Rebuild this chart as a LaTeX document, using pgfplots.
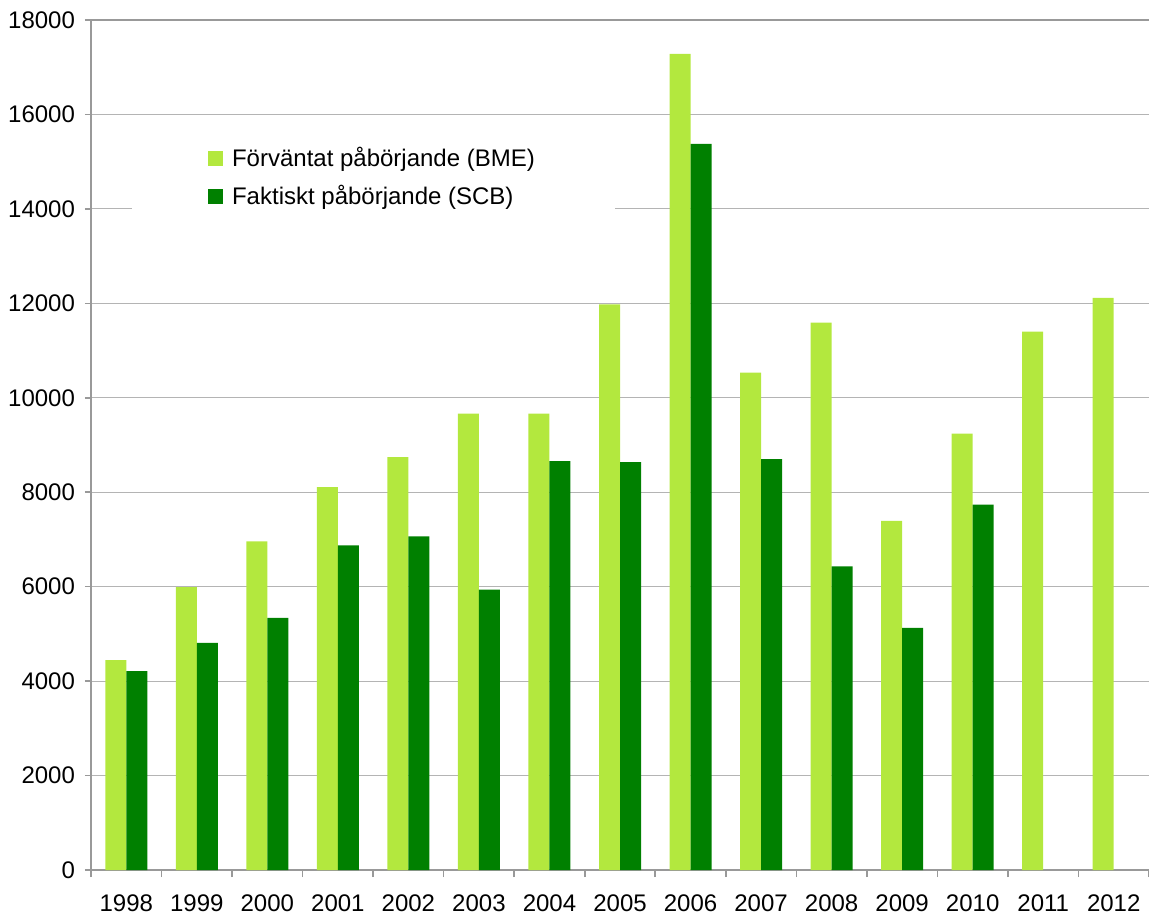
\documentclass[border=0pt]{standalone}
\usepackage{fontspec}
\setmainfont{Liberation Sans}
\usepackage{pgfplots}
\pgfplotsset{compat=1.18}
\definecolor{lightg}{HTML}{B3E83E}
\definecolor{darkg}{HTML}{008000}
\definecolor{axgray}{HTML}{999999}
\definecolor{gridgray}{HTML}{B4B4B4}
\begin{document}
\begin{tikzpicture}
\begin{axis}[
  scale only axis,
  width=529pt, height=425pt,
  xmin=-0.5, xmax=14.5,
  ymin=0, ymax=18000,
  ybar=0pt, bar width=10.5pt,
  xtick={0,...,14},
  xticklabels={1998,1999,2000,2001,2002,2003,2004,2005,2006,2007,2008,2009,2010,2011,2012},
  minor xtick={-0.5,0.5,...,14.5},
  major x tick style={draw=none},
  minor x tick style={axgray, line width=0.8pt},
  minor tick length=3.5pt,
  ytick={0,2000,...,16000},
  extra y ticks={18000},
  extra y tick style={grid style={axgray, line width=1pt}},
  scaled y ticks=false,
  yticklabel style={xshift=-1.5pt, /pgf/number format/.cd, fixed, 1000 sep={}},
  /pgf/number format/assume math mode=true,
  tick align=outside,
  major tick length=3pt,
  tick style={axgray, line width=0.8pt},
  ymajorgrids,
  grid style={gridgray, line width=0.6pt},
  axis x line*=bottom, axis y line*=left,
  axis line style={axgray, line width=1pt, -},
  tick label style={font=\fontsize{12}{14}\selectfont},
  xticklabel style={yshift=-6pt},
  legend style={at={(rel axis cs:0.267,0.8147)}, anchor=center, fill=white, draw=none,
    inner xsep=38pt, inner ysep=10pt, row sep=4pt,
    font=\fontsize{12}{14}\selectfont},
  legend cell align=left,
]
\coordinate (sw) at (rel axis cs:0,0);
\coordinate (ne) at (rel axis cs:1,1);
\addplot[fill=lightg, draw=none, legend image code/.code={\fill[lightg] (0pt,-3.75pt) rectangle (7.5pt,3.75pt); \path (10pt,0pt);}] coordinates {
(0,4447) (1,5990) (2,6958) (3,8110) (4,8742) (5,9667) (6,9667) (7,11979) (8,17285) (9,10533) (10,11590) (11,7395) (12,9240) (13,11400) (14,12115)};
\addplot[fill=darkg, draw=none, legend image code/.code={\fill[darkg] (0pt,-3.75pt) rectangle (7.5pt,3.75pt); \path (10pt,0pt);}] coordinates {
(0,4213) (1,4809) (2,5340) (3,6872) (4,7067) (5,5936) (6,8657) (7,8636) (8,15377) (9,8701) (10,6428) (11,5125) (12,7735)};
\legend{Förväntat påbörjande (BME), Faktiskt påbörjande (SCB)}
\end{axis}
\pgfresetboundingbox
\path[use as bounding box] ([shift={(-45.5pt,-22.5pt)}]sw) rectangle ([shift={(0pt,10pt)}]ne);
\end{tikzpicture}
\end{document}
